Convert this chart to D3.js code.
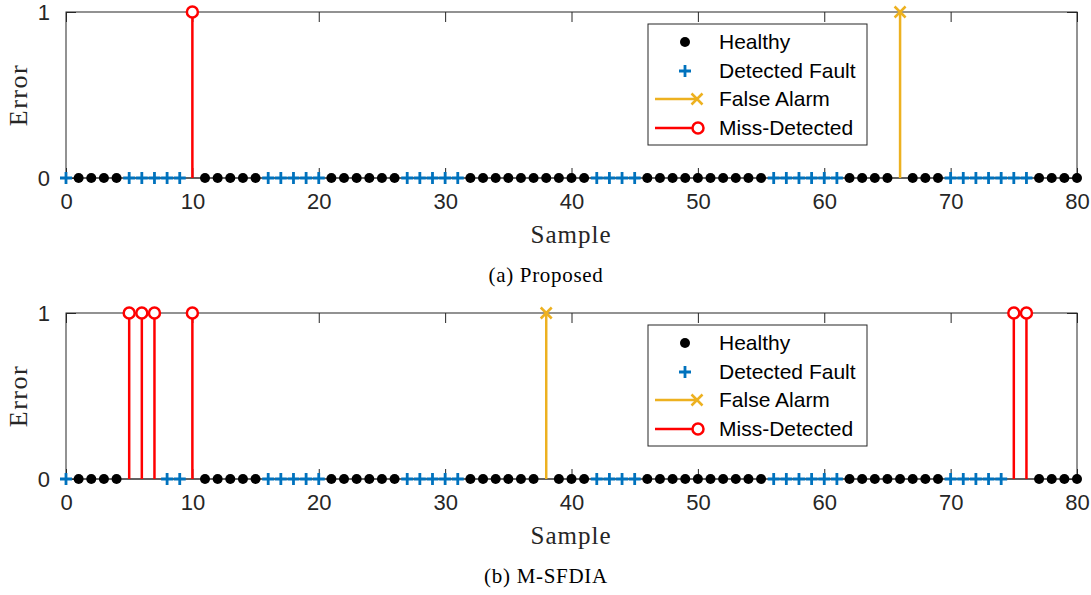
<!DOCTYPE html>
<html><head><meta charset="utf-8">
<script src="https://cdn.jsdelivr.net/npm/d3@7"></script>
<style>body{margin:0;background:#fff}</style>
</head><body>
<svg id="c" width="1091" height="595"></svg>
<script>
// ---- data ----
const xTicks = [0,10,20,30,40,50,60,70,80];
const yTicks = [0,1];
const legendLabels = ["Healthy","Detected Fault","False Alarm","Miss-Detected"];
const captions = ["(a) Proposed","(b) M-SFDIA"];

// Panel (a) Proposed
const healthyA = [1,2,3,4,11,12,13,14,15,21,22,23,24,25,26,32,33,34,35,36,37,38,39,40,41,46,47,48,49,50,51,52,53,54,55,62,63,64,65,67,68,69,77,78,79,80];
const faultA   = [0,5,6,7,8,9,16,17,18,19,20,27,28,29,30,31,42,43,44,45,56,57,58,59,60,61,70,71,72,73,74,75,76];
const falseA   = [66];
const missA    = [10];
// Panel (b) M-SFDIA
const healthyB = [1,2,3,4,11,12,13,14,15,21,22,23,24,25,26,32,33,34,35,36,37,39,40,41,46,47,48,49,50,51,52,53,54,55,62,63,64,65,66,67,68,69,77,78,79,80];
const faultB   = [0,8,9,16,17,18,19,20,27,28,29,30,31,42,43,44,45,56,57,58,59,60,61,70,71,72,73,74];
const falseB   = [38];
const missB    = [5,6,7,10,75,76];
const errHealthy = 0, errFault = 0, errFalse = 1, errMiss = 1;

const panels = [
  {healthy:healthyA, fault:faultA, fa:falseA, miss:missA, caption:captions[0]},
  {healthy:healthyB, fault:faultB, fa:falseB, miss:missB, caption:captions[1]}
];

// ---- drawing ----
const svg = d3.select("#c");
const BLUE="#0072BD", YEL="#EDB120", RED="#FF0000", AX="#262626";
const sans = "'Liberation Sans', Arial, Helvetica, sans-serif";
const serif = "'Liberation Serif', 'Times New Roman', serif";
const geo = [{top:12,bottom:178},{top:313,bottom:479}];
const x = d3.scaleLinear().domain([0,80]).range([66,1077]);

panels.forEach((p,i)=>{
  const g = svg.append("g");
  const y = d3.scaleLinear().domain([0,1]).range([geo[i].bottom, geo[i].top]);

  // axes box
  g.append("rect").attr("x",x(0)).attr("y",y(1)).attr("width",x(80)-x(0)).attr("height",y(0)-y(1))
    .attr("fill","none").attr("stroke",AX).attr("stroke-width",1);

  // ticks (inward) via d3 axes
  const tl = 10;
  const xb = g.append("g").attr("transform",`translate(0,${y(0)})`)
    .call(d3.axisBottom(x).tickValues(xTicks).tickSizeInner(-tl).tickSizeOuter(0).tickPadding(tl+5));
  const xt = g.append("g").attr("transform",`translate(0,${y(1)})`)
    .call(d3.axisTop(x).tickValues(xTicks).tickSizeInner(-tl).tickSizeOuter(0).tickFormat(""));
  const yl = g.append("g").attr("transform",`translate(${x(0)},0)`)
    .call(d3.axisLeft(y).tickValues(yTicks).tickSizeInner(-tl).tickSizeOuter(0).tickPadding(tl+6).tickFormat(d3.format("d")));
  const yr = g.append("g").attr("transform",`translate(${x(80)},0)`)
    .call(d3.axisRight(y).tickValues(yTicks).tickSizeInner(-tl).tickSizeOuter(0).tickFormat(""));
  [xb,xt,yl,yr].forEach(a=>{
    a.select(".domain").remove();
    a.selectAll("line").attr("stroke",AX).attr("stroke-width",1);
    a.selectAll("text").attr("fill",AX).style("font-family",sans).style("font-size","22px");
  });
  xb.selectAll("text").attr("dy","0.71em");

  // baseline
  g.append("line").attr("x1",x(0)).attr("x2",x(80)).attr("y1",y(0)).attr("y2",y(0))
    .attr("stroke","#333").attr("stroke-width",1.2);

  // stems for false alarm & miss
  g.selectAll(".sfa").data(p.fa).join("line").attr("x1",d=>x(d)).attr("x2",d=>x(d))
    .attr("y1",y(0)).attr("y2",y(errFalse)).attr("stroke",YEL).attr("stroke-width",2.5);
  g.selectAll(".smd").data(p.miss).join("line").attr("x1",d=>x(d)).attr("x2",d=>x(d))
    .attr("y1",y(0)).attr("y2",y(errMiss)).attr("stroke",RED).attr("stroke-width",2.5);

  // healthy dots
  g.selectAll(".h").data(p.healthy).join("circle").attr("cx",d=>x(d)).attr("cy",y(errHealthy))
    .attr("r",5).attr("fill","#000");
  // fault plus
  const pl = 6;
  g.selectAll(".f").data(p.fault).join("path")
    .attr("d",d=>`M${x(d)-pl},${y(errFault)}H${x(d)+pl}M${x(d)},${y(errFault)-pl}V${y(errFault)+pl}`)
    .attr("stroke",BLUE).attr("stroke-width",2.8).attr("fill","none");
  // false alarm x
  const xs = 5.5;
  g.selectAll(".fx").data(p.fa).join("path")
    .attr("d",d=>`M${x(d)-xs},${y(errFalse)-xs}L${x(d)+xs},${y(errFalse)+xs}M${x(d)-xs},${y(errFalse)+xs}L${x(d)+xs},${y(errFalse)-xs}`)
    .attr("stroke",YEL).attr("stroke-width",2.5).attr("fill","none");
  // miss circles
  g.selectAll(".mo").data(p.miss).join("circle").attr("cx",d=>x(d)).attr("cy",y(errMiss))
    .attr("r",5.5).attr("fill","#fff").attr("stroke",RED).attr("stroke-width",2.5);

  // labels
  const midY = (y(0)+y(1))/2;
  g.append("text").attr("transform",`translate(27,${midY}) rotate(-90)`).attr("text-anchor","middle")
    .style("font-family",serif).style("font-size","26px").style("letter-spacing","1.5px").attr("fill",AX).text("Error");
  g.append("text").attr("x",571).attr("y",y(0)+65).attr("text-anchor","middle")
    .style("font-family",serif).style("font-size","25px").style("letter-spacing","1px").attr("fill",AX).text("Sample");
  g.append("text").attr("x",546).attr("y",y(0)+104).attr("text-anchor","middle")
    .style("font-family",serif).style("font-size","21px").style("letter-spacing","0.7px").attr("fill","#000").text(p.caption);

  // legend
  const lg = g.append("g").attr("transform",`translate(648,${y(1)+12})`);
  lg.append("rect").attr("width",219).attr("height",121).attr("fill","#fff").attr("stroke",AX).attr("stroke-width",1);
  const rows = [18,47,75,104];
  legendLabels.forEach((t,k)=>{
    lg.append("text").attr("x",71).attr("y",rows[k]).attr("dy","0.35em")
      .style("font-family",sans).style("font-size","21px").attr("fill","#000").text(t);
  });
  lg.append("circle").attr("cx",37).attr("cy",rows[0]).attr("r",5).attr("fill","#000");
  lg.append("path").attr("d",`M${37-pl},${rows[1]}H${37+pl}M37,${rows[1]-pl}V${rows[1]+pl}`)
    .attr("stroke",BLUE).attr("stroke-width",2.8);
  lg.append("line").attr("x1",7).attr("x2",50).attr("y1",rows[2]).attr("y2",rows[2]).attr("stroke",YEL).attr("stroke-width",2.5);
  lg.append("path").attr("d",`M${49-xs},${rows[2]-xs}L${49+xs},${rows[2]+xs}M${49-xs},${rows[2]+xs}L${49+xs},${rows[2]-xs}`)
    .attr("stroke",YEL).attr("stroke-width",2.5);
  lg.append("line").attr("x1",7).attr("x2",50).attr("y1",rows[3]).attr("y2",rows[3]).attr("stroke",RED).attr("stroke-width",2.5);
  lg.append("circle").attr("cx",50).attr("cy",rows[3]).attr("r",5.5).attr("fill","#fff").attr("stroke",RED).attr("stroke-width",2.5);
});
</script>
</body></html>
